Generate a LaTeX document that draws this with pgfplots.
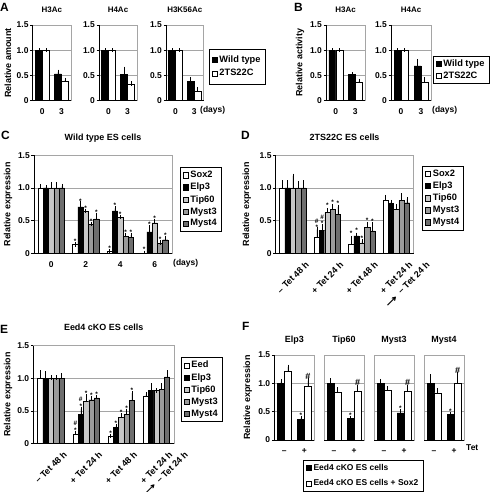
\documentclass[border=0pt]{standalone}
\usepackage{fontspec}
\setmainfont{Liberation Sans}
\newfontfamily\dejavu{DejaVu Sans}
\usepackage{pgfplots}
\pgfplotsset{compat=1.18}
\definecolor{gA}{RGB}{200,200,200}
\definecolor{gB}{RGB}{155,155,155}
\definecolor{gC}{RGB}{110,110,110}
\definecolor{frm}{RGB}{165,165,165}
\newcommand{\ft}{\fontsize{8.5}{9}\selectfont\bfseries}
\newcommand{\fr}{\fontsize{9}{9}\selectfont\bfseries}
\newcommand{\fl}{\fontsize{9}{10}\selectfont\bfseries}
\newcommand{\fleg}{\fontsize{9.3}{10}\selectfont\bfseries}
\newcommand{\flegF}{\fontsize{8.5}{9}\selectfont\bfseries}
\newcommand{\fa}{\fontsize{8}{9}\selectfont\bfseries}
\newcommand{\fs}{\fontsize{6.5}{6.5}\selectfont\bfseries}
\newcommand{\fh}{\fontsize{9}{9}\selectfont}
\newcommand{\fp}{\fontsize{12}{12}\selectfont\bfseries}
\newcommand{\labS}{*}
\newcommand{\labH}{{\fh\#}}
\newcommand{\labB}{\makebox[0pt][c]{\raisebox{6.5bp}{\#}}\makebox[0pt][c]{*}}
\newcommand{\lastlab}{+ Tet 24 h\rlap{\smash{\raisebox{-12.5bp}{\hspace{12bp}\llap{\raisebox{-1bp}{\dejavu\scalebox{1.8}[1.1]{→}}\hspace{5bp}– Tet 24 h}}}}}
\newcommand{\lastlabE}{+ Tet 24 h\rlap{\smash{\raisebox{-11bp}{\hspace{11bp}\llap{\raisebox{0bp}{\dejavu\scalebox{1.7}[1]{→}}\hspace{4bp}– Tet 24 h}}}}}
\pgfplotsset{
 panel/.style={
  scale only axis, ybar, anchor=south west,
  ymin=0, ymax=1.5, ytick={0,0.5,1,1.5}, yticklabels={0,0.5,1.0,1.5},
  enlargelimits=false, ytick pos=left, xtick pos=bottom,
  tick align=outside, major tick length=2.5bp,
  ymajorgrids, grid style={draw=frm, line width=0.5bp},
  axis line style={draw=frm, line width=0.6bp},
  ytick style={draw=black, line width=0.5bp},
  xtick style={draw=none},
  tick label style={font=\ft},
  yticklabel style={inner sep=1.5bp},
  label style={font=\fl},
  title style={font=\fl, at={(0.5,1)}, anchor=base, inner sep=0pt},
  after end axis/.code={\draw[black, line width=0.6bp] (rel axis cs:0,1) -- (rel axis cs:0,0) -- (rel axis cs:1,0);},
  legend image code/.code={\draw[##1, line width=0.5bp] (0bp,-2.6bp) rectangle (5.2bp,2.6bp);},
  legend style={draw=black, line width=0.5bp, font=\fleg, inner xsep=2.5bp, inner ysep=2bp, row sep=0bp, anchor=north west},
  legend cell align=left,
 },
 xtl/.style={xticklabel style={anchor=base, yshift=#1}},
 rotl/.style={xticklabel style={font=\fr, xshift=14.5bp, yshift=-7bp, rotate=45, anchor=east, inner sep=0pt}},
 eb/.style={error bars/y dir=plus, error bars/y explicit, error bars/error bar style={black, line width=0.5bp}, error bars/error mark options={black, line width=0.5bp, mark size=2.2bp}},
 ann/.style={draw=none, fill=none, forget plot, nodes near coords={\csname lab\pgfplotspointmeta\endcsname}, point meta=explicit symbolic, every node near coord/.append style={anchor=base, inner sep=0pt, font=\fs, text=black}},
}
\begin{document}
\begin{tikzpicture}
\path[use as bounding box] (0,0) rectangle (493bp,-492bp);
% ---------- panel letters and loose text
\node[anchor=north west, inner sep=0pt, font=\fp] at (0bp,-3bp) {A};
\node[anchor=north west, inner sep=0pt, font=\fp] at (294bp,-3bp) {B};
\node[anchor=north west, inner sep=0pt, font=\fp] at (1bp,-131bp) {C};
\node[anchor=north west, inner sep=0pt, font=\fp] at (241bp,-131bp) {D};
\node[anchor=north west, inner sep=0pt, font=\fp] at (0bp,-325bp) {E};
\node[anchor=north west, inner sep=0pt, font=\fp] at (242bp,-322bp) {F};
\node[anchor=base west, inner sep=0pt, font=\ft] at (200bp,-112.2bp) {(days)};
\node[anchor=base west, inner sep=0pt, font=\ft] at (432bp,-112.2bp) {(days)};
\node[anchor=base west, inner sep=0pt, font=\ft] at (173bp,-265bp) {(days)};
\node[anchor=base west, inner sep=0pt, font=\ft] at (466bp,-450.7bp) {Tet};

% ================= A =================
\begin{axis}[panel, xtl=-11.5bp, at={(32.7bp,-100.7bp)}, width=38.3bp, height=75.7bp, xmin=-0.5, xmax=1.5, xtick={0,1}, xticklabels={0,3},
 title={H3Ac}, title style={font=\fa, yshift=7bp}, ylabel={Relative amount}, ylabel style={at={(axis description cs:-0.645,0.5)}, anchor=center}]
\addplot[fill=black, draw=black, bar width=7bp, bar shift=-3.5bp, eb] table[x=x,y=y,y error=e] {
x y e
0 1.00 0
1 0.53 0.04
};
\addplot[fill=white, draw=black, bar width=7bp, bar shift=3.5bp, eb] table[x=x,y=y,y error=e] {
x y e
0 1.00 0
1 0.38 0.03
};
\end{axis}
\begin{axis}[panel, xtl=-11.5bp, at={(99bp,-100.7bp)}, width=38bp, height=75.7bp, xmin=-0.5, xmax=1.5, xtick={0,1}, xticklabels={0,3},
 title={H4Ac}, title style={font=\fa, yshift=7bp}]
\addplot[fill=black, draw=black, bar width=7bp, bar shift=-3.5bp, eb] table[x=x,y=y,y error=e] {
x y e
0 1.00 0
1 0.52 0.11
};
\addplot[fill=white, draw=black, bar width=7bp, bar shift=3.5bp, eb] table[x=x,y=y,y error=e] {
x y e
0 1.00 0
1 0.32 0.02
};
\end{axis}
\begin{axis}[panel, xtl=-11.5bp, at={(166bp,-100.7bp)}, width=37.5bp, height=75.7bp, xmin=-0.5, xmax=1.5, xtick={0,1}, xticklabels={0,3},
 title={H3K56Ac}, title style={font=\fa, yshift=7bp},
 legend style={at={(1.147,0.683)}, inner ysep=4.5bp, row sep=1.5bp}, legend entries={Wild type,2TS22C}]
\addplot[fill=black, draw=black, bar width=7bp, bar shift=-3.5bp, eb] table[x=x,y=y,y error=e] {
x y e
0 1.00 0
1 0.38 0.04
};
\addplot[fill=white, draw=black, bar width=7bp, bar shift=3.5bp, eb] table[x=x,y=y,y error=e] {
x y e
0 1.00 0
1 0.19 0.04
};
\end{axis}

% ================= B =================
\begin{axis}[panel, xtl=-11.5bp, at={(326bp,-100.7bp)}, width=39bp, height=75.7bp, xmin=-0.5, xmax=1.5, xtick={0,1}, xticklabels={0,3},
 title={H3Ac}, title style={font=\fa, yshift=7bp}, ylabel={Relative activity}, ylabel style={at={(axis description cs:-0.667,0.5)}, anchor=center}]
\addplot[fill=black, draw=black, bar width=7bp, bar shift=-3.5bp, eb] table[x=x,y=y,y error=e] {
x y e
0 1.00 0
1 0.52 0
};
\addplot[fill=white, draw=black, bar width=7bp, bar shift=3.5bp, eb] table[x=x,y=y,y error=e] {
x y e
0 1.00 0
1 0.37 0.02
};
\end{axis}
\begin{axis}[panel, xtl=-11.5bp, at={(391bp,-100.7bp)}, width=40bp, height=75.7bp, xmin=-0.5, xmax=1.5, xtick={0,1}, xticklabels={0,3},
 title={H4Ac}, title style={font=\fa, yshift=7bp},
 legend style={at={(1.05,0.594)}, inner ysep=1.5bp}, legend entries={Wild type,2TS22C}]
\addplot[fill=black, draw=black, bar width=7bp, bar shift=-3.5bp, eb] table[x=x,y=y,y error=e] {
x y e
0 1.00 0
1 0.69 0.09
};
\addplot[fill=white, draw=black, bar width=7bp, bar shift=3.5bp, eb] table[x=x,y=y,y error=e] {
x y e
0 1.00 0
1 0.37 0.05
};
\end{axis}

% ================= C =================
\begin{axis}[panel, xtl=-11.5bp, at={(34bp,-253.5bp)}, width=138bp, height=98.3bp, xmin=-0.5, xmax=3.5, xtick={0,1,2,3}, xticklabels={0,2,4,6},
 title={Wild type ES cells}, title style={yshift=9bp}, ylabel={Relative expression}, ylabel style={at={(axis description cs:-0.188,0.5)}, anchor=center},
 legend style={at={(1.058,0.88)}}, legend entries={Sox2,Elp3,Tip60,Myst3,Myst4}]
\addplot[fill=white, draw=black, bar width=5.3bp, bar shift=-10.6bp, eb] table[x=x,y=y,y error=e] {
x y e
0 1.00 0.02
1 0.14 0
2 0.03 0
3 0.01 0
};
\addplot[fill=black, draw=black, bar width=5.3bp, bar shift=-5.3bp, eb] table[x=x,y=y,y error=e] {
x y e
0 1.00 0.01
1 0.71 0.05
2 0.65 0.04
3 0.33 0.07
};
\addplot[fill=gA, draw=black, bar width=5.3bp, bar shift=0bp, eb] table[x=x,y=y,y error=e] {
x y e
0 1.00 0.06
1 0.64 0.01
2 0.55 0.01
3 0.47 0.03
};
\addplot[fill=gB, draw=black, bar width=5.3bp, bar shift=5.3bp, eb] table[x=x,y=y,y error=e] {
x y e
0 1.00 0.05
1 0.44 0.01
2 0.26 0.02
3 0.15 0.02
};
\addplot[fill=gC, draw=black, bar width=5.3bp, bar shift=10.6bp, eb] table[x=x,y=y,y error=e] {
x y e
0 1.00 0.03
1 0.53 0.06
2 0.25 0.03
3 0.21 0.03
};
\addplot[ann, bar width=5.3bp, bar shift=-10.6bp] table[x=x,y=y,meta=m] {
x y m
1 0.16 S
2 0.05 S
3 0.03 S
};
\addplot[ann, bar width=5.3bp, bar shift=-5.3bp] table[x=x,y=y,meta=m] {
x y m
1 0.77 S
2 0.70 S
3 0.41 S
};
\addplot[ann, bar width=5.3bp, bar shift=0bp] table[x=x,y=y,meta=m] {
x y m
1 0.66 S
2 0.57 S
3 0.51 S
};
\addplot[ann, bar width=5.3bp, bar shift=5.3bp] table[x=x,y=y,meta=m] {
x y m
1 0.46 S
2 0.29 S
3 0.18 S
};
\addplot[ann, bar width=5.3bp, bar shift=10.6bp] table[x=x,y=y,meta=m] {
x y m
1 0.60 S
2 0.29 S
3 0.25 S
};
\end{axis}

% ================= D =================
\begin{axis}[panel, rotl, at={(275.7bp,-253.5bp)}, width=137.8bp, height=98.3bp, xmin=-0.5, xmax=3.5, xtick={0,1,2,3},
 xticklabels={{– Tet 48 h},{+ Tet 24 h},{+ Tet 48 h},{\lastlab}},
 title={2TS22C ES cells}, title style={yshift=9bp}, ylabel={Relative expression}, ylabel style={at={(axis description cs:-0.209,0.5)}, anchor=center},
 legend style={at={(1.065,0.893)}}, legend entries={Sox2,Elp3,Tip60,Myst3,Myst4}]
\addplot[fill=white, draw=black, bar width=5.3bp, bar shift=-10.6bp, eb] table[x=x,y=y,y error=e] {
x y e
0 1.00 0.085
1 0.25 0.12
2 0.145 0.09
3 0.81 0.05
};
\addplot[fill=black, draw=black, bar width=5.3bp, bar shift=-5.3bp, eb] table[x=x,y=y,y error=e] {
x y e
0 1.00 0.085
1 0.35 0.06
2 0.27 0.015
3 0.76 0.025
};
\addplot[fill=gA, draw=black, bar width=5.3bp, bar shift=0bp, eb] table[x=x,y=y,y error=e] {
x y e
0 1.00 0.185
1 0.625 0.035
2 0.15 0.035
3 0.67 0.05
};
\addplot[fill=gB, draw=black, bar width=5.3bp, bar shift=5.3bp, eb] table[x=x,y=y,y error=e] {
x y e
0 1.00 0.075
1 0.67 0.05
2 0.40 0.05
3 0.81 0.075
};
\addplot[fill=gC, draw=black, bar width=5.3bp, bar shift=10.6bp, eb] table[x=x,y=y,y error=e] {
x y e
0 1.00 0.085
1 0.60 0.11
2 0.345 0.105
3 0.775 0.05
};
\addplot[ann, bar width=5.3bp, bar shift=-10.6bp] table[x=x,y=y,meta=m] {
x y m
1 0.36 B
2 0.27 S
};
\addplot[ann, bar width=5.3bp, bar shift=-5.3bp] table[x=x,y=y,meta=m] {
x y m
1 0.42 B
2 0.32 S
};
\addplot[ann, bar width=5.3bp, bar shift=0bp] table[x=x,y=y,meta=m] {
x y m
1 0.70 S
2 0.20 S
};
\addplot[ann, bar width=5.3bp, bar shift=5.3bp] table[x=x,y=y,meta=m] {
x y m
1 0.75 S
2 0.47 S
};
\addplot[ann, bar width=5.3bp, bar shift=10.6bp] table[x=x,y=y,meta=m] {
x y m
1 0.74 S
2 0.46 S
};
\end{axis}

% ================= E =================
\begin{axis}[panel, rotl, at={(33.3bp,-443.3bp)}, width=140.7bp, height=97.6bp, xmin=-0.5, xmax=3.5, xtick={0,1,2,3},
 xticklabels={{– Tet 48 h},{+ Tet 24 h},{+ Tet 48 h},{\lastlabE}},
 title={Eed4 cKO ES cells}, title style={yshift=9.2bp}, ylabel={Relative expression}, ylabel style={at={(axis description cs:-0.18,0.5)}, anchor=center},
 legend style={at={(1.05,0.884)}}, legend entries={Eed,Elp3,Tip60,Myst3,Myst4}]
\addplot[fill=white, draw=black, bar width=5.3bp, bar shift=-10.6bp, eb] table[x=x,y=y,y error=e] {
x y e
0 1.00 0.09
1 0.14 0.02
2 0.11 0
3 0.72 0.03
};
\addplot[fill=black, draw=black, bar width=5.3bp, bar shift=-5.3bp, eb] table[x=x,y=y,y error=e] {
x y e
0 1.00 0.07
1 0.45 0.08
2 0.24 0.02
3 0.81 0.08
};
\addplot[fill=gA, draw=black, bar width=5.3bp, bar shift=0bp, eb] table[x=x,y=y,y error=e] {
x y e
0 1.00 0.01
1 0.65 0.07
2 0.40 0.03
3 0.81 0
};
\addplot[fill=gB, draw=black, bar width=5.3bp, bar shift=5.3bp, eb] table[x=x,y=y,y error=e] {
x y e
0 1.00 0.01
1 0.67 0.03
2 0.45 0.05
3 0.83 0.06
};
\addplot[fill=gC, draw=black, bar width=5.3bp, bar shift=10.6bp, eb] table[x=x,y=y,y error=e] {
x y e
0 1.00 0.04
1 0.70 0.01
2 0.66 0.11
3 1.02 0.07
};
\addplot[ann, bar width=5.3bp, bar shift=-10.6bp] table[x=x,y=y,meta=m] {
x y m
1 0.17 B
2 0.12 S
};
\addplot[ann, bar width=5.3bp, bar shift=-5.3bp] table[x=x,y=y,meta=m] {
x y m
1 0.54 B
2 0.27 S
};
\addplot[ann, bar width=5.3bp, bar shift=0bp] table[x=x,y=y,meta=m] {
x y m
1 0.73 S
2 0.44 S
};
\addplot[ann, bar width=5.3bp, bar shift=5.3bp] table[x=x,y=y,meta=m] {
x y m
1 0.71 S
2 0.51 S
};
\addplot[ann, bar width=5.3bp, bar shift=10.6bp] table[x=x,y=y,meta=m] {
x y m
1 0.72 S
2 0.78 S
};
\end{axis}

% ================= F =================
\begin{axis}[panel, xtl=-11bp, at={(274.3bp,-440bp)}, width=40bp, height=85bp, xmin=-0.5, xmax=1.5, xtick={0,1}, xticklabels={–,+},
 title={Elp3}, title style={yshift=6.7bp}, ylabel={Relative expression}, ylabel style={at={(axis description cs:-0.66,0.5)}, anchor=center},
 legend style={at={(0.72,-0.235)}, font=\flegF, row sep=4bp}, legend entries={Eed4 cKO ES cells,Eed4 cKO ES cells + Sox2}]
\addplot[fill=black, draw=black, bar width=7bp, bar shift=-3.5bp, eb] table[x=x,y=y,y error=e] {
x y e
0 1.00 0.03
1 0.36 0.03
};
\addplot[fill=white, draw=black, bar width=7bp, bar shift=3.5bp, eb] table[x=x,y=y,y error=e] {
x y e
0 1.22 0.07
1 0.95 0.10
};
\addplot[ann, bar width=7bp, bar shift=-3.5bp] table[x=x,y=y,meta=m] {
x y m
1 0.40 S
};
\addplot[ann, bar width=7bp, bar shift=3.5bp] table[x=x,y=y,meta=m] {
x y m
1 1.07 H
};
\end{axis}
\begin{axis}[panel, xtl=-11bp, at={(324bp,-440bp)}, width=40bp, height=85bp, xmin=-0.5, xmax=1.5, xtick={0,1}, xticklabels={–,+},
 yticklabels={}, ytick style={draw=none},
 after end axis/.code={\draw[black, line width=0.6bp] (rel axis cs:0,0) -- (rel axis cs:1,0);},
 title={Tip60}, title style={yshift=6.7bp}]
\addplot[fill=black, draw=black, bar width=7bp, bar shift=-3.5bp, eb] table[x=x,y=y,y error=e] {
x y e
0 1.00 0.05
1 0.38 0.01
};
\addplot[fill=white, draw=black, bar width=7bp, bar shift=3.5bp, eb] table[x=x,y=y,y error=e] {
x y e
0 0.84 0.05
1 0.87 0.07
};
\addplot[ann, bar width=7bp, bar shift=-3.5bp] table[x=x,y=y,meta=m] {
x y m
1 0.40 S
};
\addplot[ann, bar width=7bp, bar shift=3.5bp] table[x=x,y=y,meta=m] {
x y m
1 0.96 H
};
\end{axis}
\begin{axis}[panel, xtl=-11bp, at={(374bp,-440bp)}, width=40bp, height=85bp, xmin=-0.5, xmax=1.5, xtick={0,1}, xticklabels={–,+},
 yticklabels={}, ytick style={draw=none},
 after end axis/.code={\draw[black, line width=0.6bp] (rel axis cs:0,0) -- (rel axis cs:1,0);},
 title={Myst3}, title style={yshift=6.7bp}]
\addplot[fill=black, draw=black, bar width=7bp, bar shift=-3.5bp, eb] table[x=x,y=y,y error=e] {
x y e
0 1.00 0.04
1 0.48 0.03
};
\addplot[fill=white, draw=black, bar width=7bp, bar shift=3.5bp, eb] table[x=x,y=y,y error=e] {
x y e
0 0.88 0.03
1 0.86 0.08
};
\addplot[ann, bar width=7bp, bar shift=-3.5bp] table[x=x,y=y,meta=m] {
x y m
1 0.52 S
};
\addplot[ann, bar width=7bp, bar shift=3.5bp] table[x=x,y=y,meta=m] {
x y m
1 0.96 H
};
\end{axis}
\begin{axis}[panel, xtl=-11bp, at={(424bp,-440bp)}, width=40bp, height=85bp, xmin=-0.5, xmax=1.5, xtick={0,1}, xticklabels={–,+},
 yticklabels={}, ytick style={draw=none},
 after end axis/.code={\draw[black, line width=0.6bp] (rel axis cs:0,0) -- (rel axis cs:1,0);},
 title={Myst4}, title style={yshift=6.7bp}]
\addplot[fill=black, draw=black, bar width=7bp, bar shift=-3.5bp, eb] table[x=x,y=y,y error=e] {
x y e
0 1.00 0.12
1 0.45 0.01
};
\addplot[fill=white, draw=black, bar width=7bp, bar shift=3.5bp, eb] table[x=x,y=y,y error=e] {
x y e
0 0.83 0.05
1 1.01 0.15
};
\addplot[ann, bar width=7bp, bar shift=-3.5bp] table[x=x,y=y,meta=m] {
x y m
1 0.47 S
};
\addplot[ann, bar width=7bp, bar shift=3.5bp] table[x=x,y=y,meta=m] {
x y m
1 1.18 H
};
\end{axis}
\end{tikzpicture}
\end{document}
